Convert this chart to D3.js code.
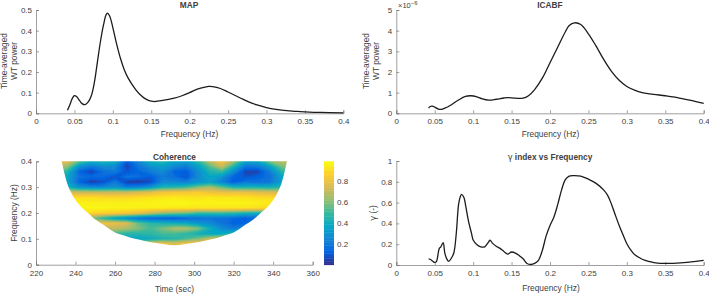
<!DOCTYPE html>
<html><head><meta charset="utf-8">
<script src="https://cdn.jsdelivr.net/npm/d3@7"></script>
<style>html,body{margin:0;padding:0;background:#fff}svg{display:block}
text{font-family:"Liberation Sans",Arial,sans-serif;fill:#404040}</style></head>
<body><div id="chart"></div>
<script>
const mapFreq=[.041,.044,.047,.05,.053,.057,.06,.064,.068,.072,.076,.08,.084,.088,.091,.093,.096,.1,.105,.11,.115,.12,.125,.13,.135,.14,.145,.15,.155,.16,.17,.18,.19,.2,.21,.22,.225,.23,.24,.25,.26,.27,.28,.29,.3,.31,.32,.33,.34,.35,.37,.4];
const mapPower=[.015,.04,.07,.085,.08,.06,.047,.042,.055,.085,.15,.25,.35,.43,.475,.485,.47,.415,.335,.265,.21,.17,.14,.113,.092,.076,.065,.059,.057,.06,.066,.073,.085,.1,.117,.127,.13,.129,.12,.103,.085,.067,.05,.038,.027,.02,.015,.012,.009,.007,.004,.002];
const icaFreq=[.042,.044,.047,.05,.055,.059,.065,.07,.08,.09,.097,.105,.112,.12,.13,.14,.145,.155,.165,.172,.18,.19,.2,.21,.22,.225,.232,.24,.25,.26,.27,.28,.29,.3,.31,.32,.33,.35,.36,.37,.38,.39,.4];
const icaPower=[.25,.33,.35,.3,.2,.19,.28,.38,.62,.82,.85,.8,.7,.64,.68,.74,.76,.73,.73,.85,1.15,1.7,2.45,3.2,3.95,4.25,4.38,4.3,3.85,3.25,2.6,2.03,1.6,1.3,1.12,1,.94,.85,.8,.72,.65,.57,.48];
const gamFreq=[.042,.045,.05,.052,.056,.058,.061,.063,.065,.068,.072,.075,.078,.081,.083,.085,.088,.09,.094,.098,.1,.105,.11,.115,.12,.122,.125,.13,.135,.14,.145,.15,.155,.16,.165,.17,.175,.18,.185,.19,.195,.2,.205,.21,.215,.22,.225,.23,.24,.25,.26,.27,.275,.28,.285,.29,.295,.3,.305,.31,.32,.33,.34,.35,.37,.39,.4];
const gamValue=[.06,.05,.025,.03,.16,.175,.215,.12,.07,.035,.07,.12,.3,.58,.65,.68,.65,.58,.42,.3,.24,.195,.175,.175,.22,.24,.21,.18,.16,.13,.105,.125,.115,.09,.06,.015,.005,.015,.045,.14,.28,.38,.46,.58,.72,.82,.855,.86,.855,.825,.785,.72,.67,.585,.48,.38,.29,.205,.145,.1,.055,.032,.018,.015,.02,.035,.045];
const freqTicks=[0,.05,.1,.15,.2,.25,.3,.35,.4];
const freqLabels=["0","0.05","0.1","0.15","0.2","0.25","0.3","0.35","0.4"];
const cohTimes=[230,236,242,248,254,260,266,272,278,284,290,296,302,308,314,320,326,332,338,344,350];
const cohFreqs=[.40,.38,.36,.34,.32,.30,.28,.26,.24,.22,.20,.18,.16,.14,.12,.10,.08,.06];
const cohValues=[
[.80,.78,.55,.42,.46,.42,.12,.28,.42,.48,.38,.36,.48,.70,.84,.65,.38,.38,.60,.70,.70],
[.70,.62,.30,.22,.28,.28,.06,.20,.30,.35,.28,.22,.35,.55,.72,.45,.20,.22,.35,.58,.65],
[.60,.45,.14,.06,.18,.22,.10,.15,.22,.28,.14,.12,.28,.45,.50,.28,.06,.06,.22,.45,.58],
[.50,.38,.18,.16,.16,.10,.20,.17,.12,.22,.18,.10,.28,.38,.32,.14,.10,.14,.18,.36,.50],
[.45,.36,.14,.05,.09,.22,.05,.04,.08,.26,.26,.24,.30,.35,.24,.12,.20,.18,.20,.34,.45],
[.48,.42,.30,.26,.26,.30,.22,.24,.32,.44,.46,.50,.60,.66,.56,.44,.44,.44,.42,.46,.50],
[.75,.75,.72,.72,.72,.72,.72,.75,.78,.82,.84,.84,.86,.82,.80,.80,.80,.78,.76,.74,.72],
[.92,.92,.92,.92,.90,.90,.90,.92,.93,.94,.95,.94,.93,.95,.94,.94,.93,.91,.91,.88,.88],
[.98,.98,.97,.96,.96,.96,.96,.97,.97,.98,.98,.98,.97,.97,.97,.97,.97,.96,.95,.95,.95],
[.98,.98,.98,.98,.98,.97,.97,.96,.96,.96,.95,.95,.94,.94,.94,.94,.94,.92,.90,.88,.88],
[.90,.93,.93,.90,.88,.87,.84,.80,.72,.64,.60,.58,.50,.50,.50,.48,.44,.42,.40,.40,.40],
[.70,.70,.68,.60,.46,.34,.26,.18,.14,.13,.11,.15,.18,.20,.18,.16,.12,.18,.28,.35,.35],
[.82,.82,.82,.82,.82,.80,.76,.56,.48,.44,.42,.38,.32,.28,.20,.14,.14,.22,.30,.35,.35],
[.70,.70,.70,.70,.68,.70,.66,.60,.52,.60,.68,.68,.60,.42,.28,.22,.30,.30,.30,.30,.30],
[.55,.55,.55,.55,.54,.50,.46,.46,.48,.52,.52,.48,.42,.38,.38,.48,.50,.50,.50,.50,.50],
[.50,.50,.50,.50,.48,.42,.38,.38,.40,.44,.46,.52,.60,.72,.78,.78,.78,.78,.78,.78,.78],
[.50,.50,.50,.50,.50,.50,.55,.62,.80,.84,.78,.86,.86,.86,.86,.86,.86,.86,.86,.86,.86],
[.50,.50,.50,.50,.50,.50,.50,.50,.60,.55,.40,.60,.86,.86,.86,.86,.86,.86,.86,.86,.86]];
const coiTime=[233,234.5,236.5,240,243,247,250,255,260,265,270,275,280,285,290,295,300,305,310,315,320,325,330,333,337,340,343.5,345.5,347];
const coiFreq=[.4,.35,.3,.25,.222,.195,.175,.15,.125,.112,.1,.092,.085,.079,.075,.079,.085,.092,.1,.112,.125,.15,.175,.195,.222,.25,.3,.35,.4];
const parulaStops=["#352a87","#0363e1","#1485d4","#06a7c6","#38b99e","#92bf73","#d9ba56","#fcce2e","#f9fb0e"];
const cbTicks=[.2,.4,.6,.8];
const W=709,H=294,ink="#404040",axisInk="#777";
const svg=d3.select("#chart").append("svg").attr("width",W).attr("height",H);
const defs=svg.append("defs");
defs.append("filter").attr("id","soft").attr("x","-5%").attr("y","-5%").attr("width","110%").attr("height","110%")
  .append("feGaussianBlur").attr("stdDeviation",.7);
function axes(g,x,y,xt,xl,yt,yl){
  const xa=d3.axisBottom(x).tickValues(xt).tickSize(-3).tickPadding(5.5).tickFormat((d,i)=>xl[i]);
  const ya=d3.axisLeft(y).tickValues(yt).tickSize(-3).tickPadding(4).tickFormat((d,i)=>yl[i]);
  const gx=g.append("g").attr("transform",`translate(0,${y.range()[0]})`).call(xa);
  const gy=g.append("g").attr("transform",`translate(${x.range()[0]},0)`).call(ya);
  [gx,gy].forEach(a=>{a.selectAll("path,line").attr("stroke",axisInk).attr("stroke-width",.7);
    a.selectAll("text").attr("font-size",8).style("font-family",'"Liberation Sans",Arial,sans-serif').attr("fill",ink);});
}
function title(cx,yy,t){return svg.append("text").attr("x",cx).attr("y",yy).attr("text-anchor","middle").attr("font-size",8.3).attr("font-weight","bold").attr("fill","#222").text(t);}
function xLabel(cx,yy,t){svg.append("text").attr("x",cx).attr("y",yy).attr("text-anchor","middle").attr("font-size",8.4).text(t);}
function yLabel(xx,cy,lines){
  const t=svg.append("text").attr("transform",`translate(${xx},${cy}) rotate(-90)`).attr("text-anchor","middle").attr("font-size",8.4);
  lines.forEach((l,i)=>t.append("tspan").attr("x",0).attr("dy",i?10:0).text(l));
}
function linePlot(xr,yr,ydom,yt,yl,fs,vs){
  const x=d3.scaleLinear().domain([0,.4]).range(xr),y=d3.scaleLinear().domain(ydom).range(yr);
  axes(svg.append("g"),x,y,freqTicks,freqLabels,yt,yl);
  svg.append("path").attr("d",d3.line().x(d=>x(d[0])).y(d=>y(d[1])).curve(d3.curveCatmullRom)(fs.map((f,i)=>[f,vs[i]])))
    .attr("fill","none").attr("stroke","#1c1c1c").attr("stroke-width",1.3);
}
linePlot([36,343.3],[113.3,10],[0,.5],[0,.1,.2,.3,.4,.5],["0","0.1","0.2","0.3","0.4","0.5"],mapFreq,mapPower);
linePlot([396.3,703.7],[113.3,10],[0,5],[0,1,2,3,4,5],["0","1","2","3","4","5"],icaFreq,icaPower);
linePlot([396.3,703.7],[265,161],[0,1],[0,.2,.4,.6,.8,1],["0","0.2","0.4","0.6","0.8","1"],gamFreq,gamValue);
title(189,8,"MAP");title(550,8,"ICABF");title(174.5,160,"Coherence");
const gt=svg.append("text").attr("x",550).attr("y",160).attr("text-anchor","middle").attr("font-size",8.3).attr("font-weight","bold").attr("fill","#222");
gt.append("tspan").attr("font-weight","normal").style("font-family","'DejaVu Sans'").text("γ");gt.append("tspan").text(" index vs Frequency");
const ex=svg.append("text").attr("x",398).attr("y",8).attr("font-size",7.5);
ex.append("tspan").text("×10");ex.append("tspan").attr("dy",-3).attr("font-size",6).text("−6");
xLabel(189.5,136.5,"Frequency (Hz)");xLabel(550.5,136.5,"Frequency (Hz)");xLabel(174.5,292,"Time (sec)");xLabel(551,291,"Frequency (Hz)");
yLabel(6.5,61,["Time-averaged","WT power"]);yLabel(369,61,["Time-averaged","WT power"]);yLabel(16.5,213,["Frequency (Hz)"]);
const gl=svg.append("text").attr("transform","translate(376,213) rotate(-90)").attr("text-anchor","middle").attr("font-size",8.4);
gl.append("tspan").style("font-family","'DejaVu Sans'").text("γ");gl.append("tspan").text(" (-)");
// coherence
const tx=d3.scaleLinear().domain([220,360]).range([36,312.7]),fy=d3.scaleLinear().domain([0,.4]).range([264.7,161.3]);
const cd=d3.scaleLinear().domain([.003,.988]).range([0,1]);
const pal=d3.scaleLinear().domain(parulaStops.map((c,i)=>i/(parulaStops.length-1))).range(parulaStops).interpolate(d3.interpolateRgb);
const color=v=>pal(Math.max(0,Math.min(1,cd(v))));
defs.append("clipPath").attr("id","coi").append("path")
  .attr("d",d3.line().x(d=>tx(d[0])).y(d=>fy(d[1])).curve(d3.curveCatmullRom)(coiTime.map((t,i)=>[t,coiFreq[i]]))+"Z");
const nx=cohTimes.length,ny=cohFreqs.length,dt=cohTimes[1]-cohTimes[0],df=cohFreqs[0]-cohFreqs[1];
const thresholds=d3.range(0,.99,.012);
const contours=d3.contours().size([nx,ny]).thresholds(thresholds)(cohValues.flat());
const proj=d3.geoTransform({point(px,py){this.stream.point(tx(cohTimes[0]+(px-.5)*dt),fy(cohFreqs[0]-(py-.5)*df));}});
const gp=d3.geoPath(proj);
const heat=svg.append("g").attr("clip-path","url(#coi)").append("g").attr("filter","url(#soft)");
heat.selectAll("path").data(contours).join("path").attr("d",gp).attr("fill",d=>color(d.value));
axes(svg.append("g"),tx,fy,d3.range(220,361,20),d3.range(220,361,20).map(String),[0,.1,.2,.3,.4],["0","0.1","0.2","0.3","0.4"]);
// colorbar
const cbY=d3.scaleLinear().domain([.003,.988]).range([264.7,161.3]);
const steps=d3.range(0,64);
svg.append("g").selectAll("rect").data(steps).join("rect").attr("x",324).attr("width",10)
  .attr("y",i=>cbY(.003+(i+1)/64*.985)).attr("height",i=>cbY(.003+i/64*.985)-cbY(.003+(i+1)/64*.985)+.4)
  .attr("fill",i=>pal((i+.5)/64));
const cbA=svg.append("g").attr("transform","translate(334,0)").call(d3.axisRight(cbY).tickValues(cbTicks).tickSize(0).tickPadding(3).tickFormat(d3.format(".1f")));
cbA.select("path").remove();cbA.selectAll("text").attr("font-size",8).style("font-family",'"Liberation Sans",Arial,sans-serif').attr("fill",ink);
</script></body></html>
